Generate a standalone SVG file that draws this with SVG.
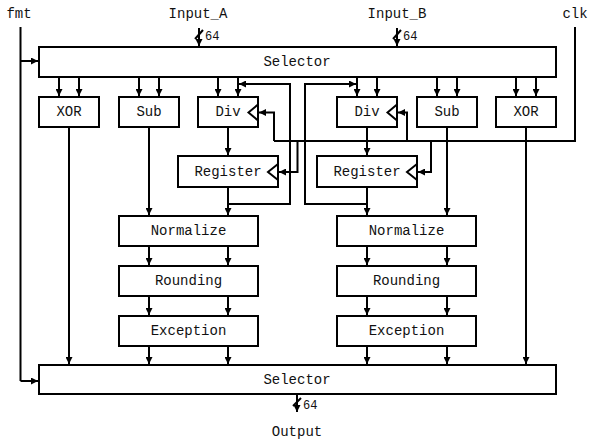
<svg xmlns="http://www.w3.org/2000/svg" width="589" height="441" viewBox="0 0 589 441">
<defs>
<marker id="ah" markerUnits="userSpaceOnUse" markerWidth="8" markerHeight="7" refX="7" refY="3.5" orient="auto">
<path d="M0,0 L7,3.5 L0,7 z" fill="#000"/>
</marker>
</defs>
<style>
.box{fill:#fff;stroke:#000;stroke-width:2}
.w{fill:none;stroke:#000;stroke-width:2}
.a{fill:none;stroke:#000;stroke-width:2;marker-end:url(#ah)}
.ck{fill:none;stroke:#000;stroke-width:2}
text{font-family:"Liberation Mono","DejaVu Sans Mono",monospace;font-size:14px;fill:#111;text-anchor:middle;dominant-baseline:central}
.s{font-size:12px;text-anchor:start}
</style>
<rect width="589" height="441" fill="#fff"/>
<g id="labels">
<text x="19" y="14">fmt</text>
<text x="198" y="14">Input_A</text>
<text x="397" y="14">Input_B</text>
<text x="575" y="14">clk</text>
<text x="297" y="432">Output</text>
</g>
<g id="connectors">
<!-- fmt -->
<path class="w" d="M20.5,27 V381"/>
<path class="a" d="M20.5,61 H38"/>
<path class="a" d="M20.5,381 H38"/>
<!-- inputs -->
<path class="a" d="M199,28 V46"/>
<path class="w" d="M195,39 L203,30"/>
<text class="s" x="205" y="37">64</text>
<path class="a" d="M397,28 V46"/>
<path class="w" d="M393,39 L401,30"/>
<text class="s" x="403" y="37">64</text>
<!-- selector to units -->
<path class="a" d="M59,77 V96"/>
<path class="a" d="M79,77 V96"/>
<path class="a" d="M139,77 V96"/>
<path class="a" d="M159,77 V96"/>
<path class="a" d="M218,77 V96"/>
<path class="a" d="M238,77 V96"/>
<path class="a" d="M357,77 V96"/>
<path class="a" d="M377,77 V96"/>
<path class="a" d="M437,77 V96"/>
<path class="a" d="M457,77 V96"/>
<path class="a" d="M516,77 V96"/>
<path class="a" d="M536,77 V96"/>
<!-- XOR / Sub outputs -->
<path class="a" d="M69,127 V364"/>
<path class="a" d="M526,127 V364"/>
<path class="a" d="M149,127 V215"/>
<path class="a" d="M447,127 V215"/>
<!-- Div to Register -->
<path class="a" d="M228,127 V155"/>
<path class="a" d="M367,127 V155"/>
<!-- Register to Normalize -->
<path class="a" d="M228,187 V215"/>
<path class="a" d="M367,187 V215"/>
<!-- feedback -->
<path class="a" d="M228,204 H290 V84 H239"/>
<path class="a" d="M367,204 H305 V84 H356"/>
<!-- clk -->
<path class="w" d="M575,27 V141 H274"/>
<path class="a" d="M274,141 V112.5 H259"/>
<path class="a" d="M297.5,141 V172 H279"/>
<path class="a" d="M407,141 V112.5 H398"/>
<path class="a" d="M431,141 V172 H418"/>
<!-- pipeline -->
<path class="a" d="M149,246 V265"/>
<path class="a" d="M228,246 V265"/>
<path class="a" d="M149,296 V315"/>
<path class="a" d="M228,296 V315"/>
<path class="a" d="M149,346 V364"/>
<path class="a" d="M228,346 V364"/>
<path class="a" d="M367,246 V265"/>
<path class="a" d="M447,246 V265"/>
<path class="a" d="M367,296 V315"/>
<path class="a" d="M447,296 V315"/>
<path class="a" d="M367,346 V364"/>
<path class="a" d="M447,346 V364"/>
<!-- output -->
<path class="a" d="M297,394 V412"/>
<path class="w" d="M293,406 L301,398"/>
<text class="s" x="303" y="406">64</text>
</g>
<g id="selector_top"><rect class="box" x="39" y="47" width="517" height="30"/><text x="297" y="62">Selector</text></g>
<g id="xor_a"><rect class="box" x="39" y="97" width="60" height="30"/><text x="69" y="112">XOR</text></g>
<g id="sub_a"><rect class="box" x="119" y="97" width="60" height="30"/><text x="149" y="112">Sub</text></g>
<g id="div_a"><rect class="box" x="198" y="97" width="60" height="30"/><polyline class="ck" points="258,104.5 248.5,112.5 258,120.5"/><text x="228" y="112">Div</text></g>
<g id="div_b"><rect class="box" x="337" y="97" width="60" height="30"/><polyline class="ck" points="397,104.5 387.5,112.5 397,120.5"/><text x="367" y="112">Div</text></g>
<g id="sub_b"><rect class="box" x="417" y="97" width="60" height="30"/><text x="447" y="112">Sub</text></g>
<g id="xor_b"><rect class="box" x="496" y="97" width="60" height="30"/><text x="526" y="112">XOR</text></g>
<g id="reg_a"><rect class="box" x="178" y="156" width="100" height="31"/><polyline class="ck" points="278,164 268,172 278,180"/><text x="228" y="171.5">Register</text></g>
<g id="reg_b"><rect class="box" x="317" y="156" width="100" height="31"/><polyline class="ck" points="417,164 407,172 417,180"/><text x="367" y="171.5">Register</text></g>
<g id="norm_a"><rect class="box" x="119" y="216" width="139" height="30"/><text x="188.5" y="231">Normalize</text></g>
<g id="norm_b"><rect class="box" x="337" y="216" width="139" height="30"/><text x="406.5" y="231">Normalize</text></g>
<g id="round_a"><rect class="box" x="119" y="266" width="139" height="30"/><text x="188.5" y="281">Rounding</text></g>
<g id="round_b"><rect class="box" x="337" y="266" width="139" height="30"/><text x="406.5" y="281">Rounding</text></g>
<g id="exc_a"><rect class="box" x="119" y="316" width="139" height="30"/><text x="188.5" y="331">Exception</text></g>
<g id="exc_b"><rect class="box" x="337" y="316" width="139" height="30"/><text x="406.5" y="331">Exception</text></g>
<g id="selector_bot"><rect class="box" x="39" y="365" width="517" height="29"/><text x="297" y="380">Selector</text></g>
</svg>
